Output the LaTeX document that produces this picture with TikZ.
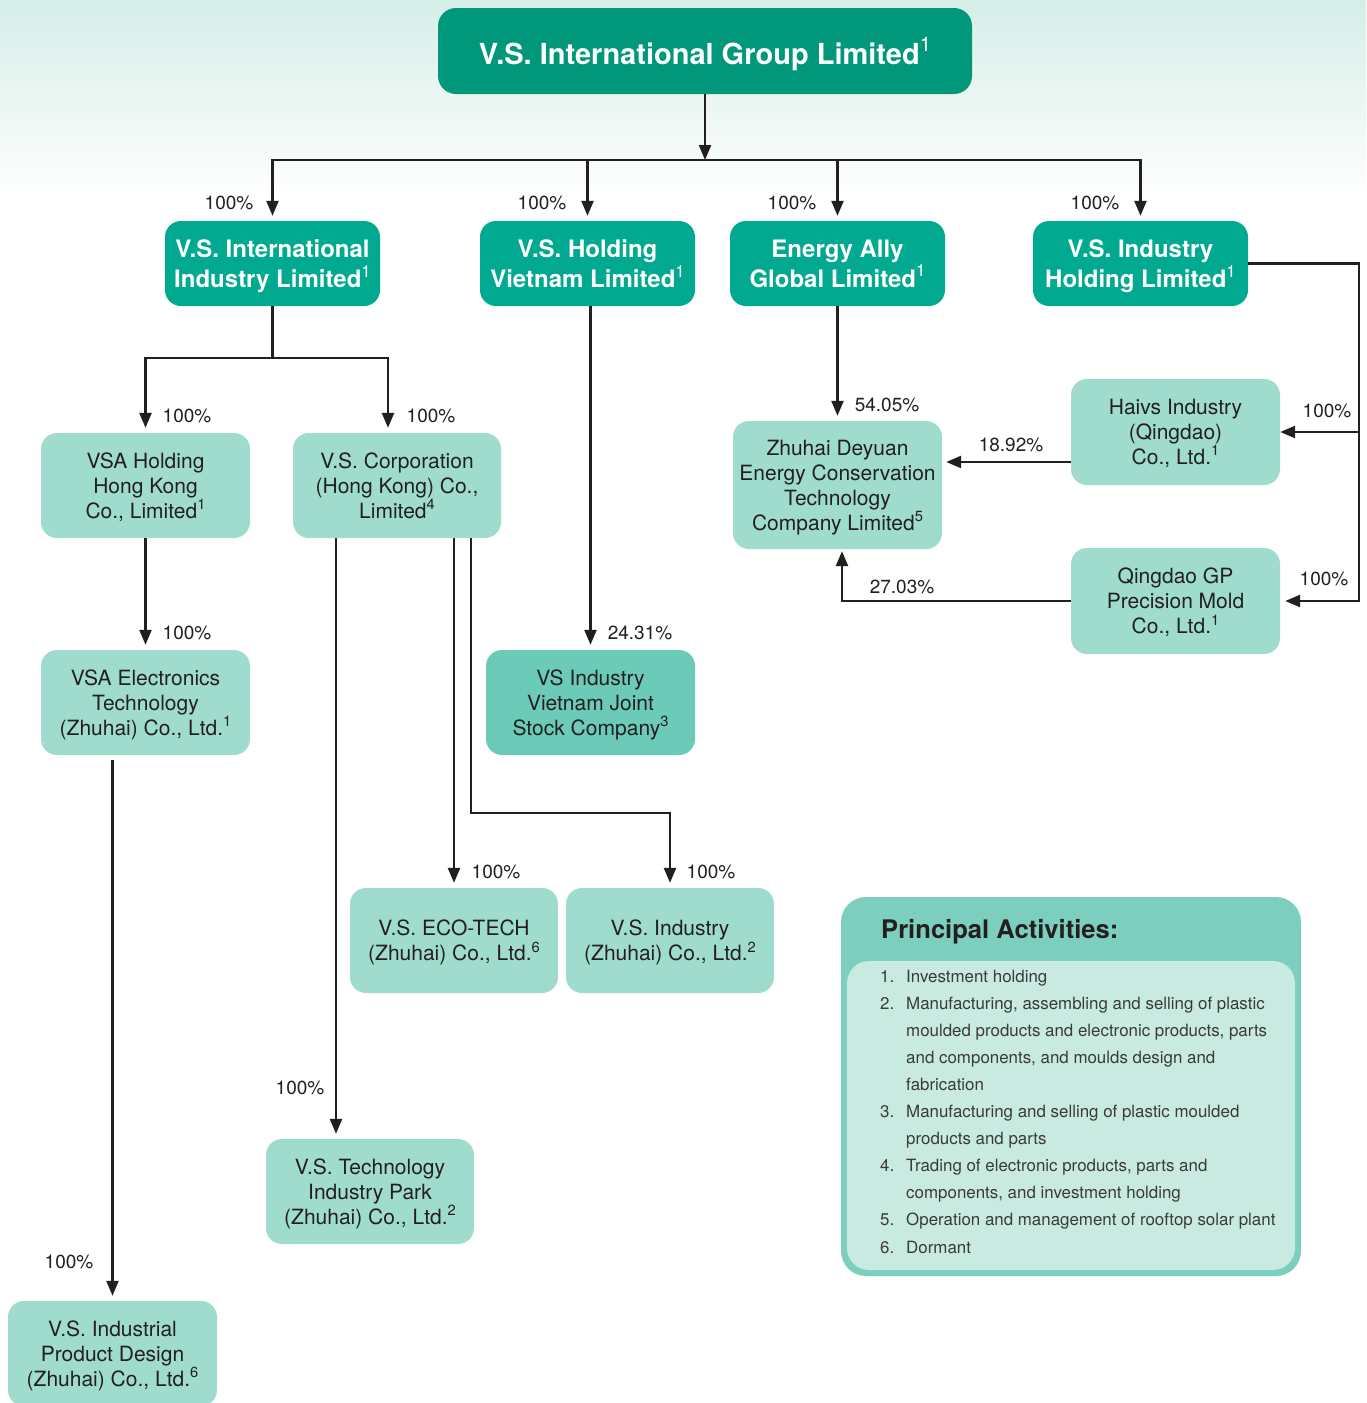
\documentclass[tikz,border=0pt]{standalone}
\usepackage{fontspec}
\setmainfont{TeX Gyre Heros}
\usetikzlibrary{arrows.meta,calc}
\definecolor{topc}{HTML}{00977A}
\definecolor{lonec}{HTML}{00A98F}
\definecolor{lightc}{HTML}{9FDCCE}
\definecolor{vnc}{HTML}{6BCBB8}
\definecolor{paout}{HTML}{7CCFBF}
\definecolor{pain}{HTML}{C8EAE1}
\definecolor{ink}{HTML}{231F20}
\definecolor{listink}{HTML}{3A3A3A}
\definecolor{bgmint}{HTML}{D6EEE8}
\newcommand\supn[1]{\raisebox{0.8ex}{\mdseries\scalebox{0.7}{#1}}}
\tikzset{
  strutted/.style={execute at begin node={\vrule height 0.72em depth 0pt width 0pt}, text depth=0pt},
  topbox/.style={strutted, rounded corners=18pt, fill=topc, text=white, inner sep=0pt, align=center,
    minimum width=534pt, minimum height=86pt, font=\fontsize{29}{34}\selectfont\bfseries},
  lonebox/.style={strutted, rounded corners=16pt, fill=lonec, text=white, inner sep=0pt, align=center,
    minimum width=215pt, minimum height=85pt, font=\fontsize{24}{30}\selectfont\bfseries},
  lbox/.style={strutted, rounded corners=16pt, fill=lightc, text=ink, inner sep=0pt, align=center,
    minimum width=209pt, minimum height=105pt, font=\fontsize{21}{25}\selectfont},
  pct/.style={text=ink, inner sep=0pt, font=\fontsize{19}{22}\selectfont},
  conn/.style={draw=ink, line width=2.4pt},
  arr/.style={conn, -{Triangle[length=15pt,width=12pt]}, shorten >=5pt},
  listtxt/.style={text=listink, inner sep=0pt, anchor=base west, font=\fontsize{16.9}{20}\selectfont},
}
\begin{document}
\begin{tikzpicture}[x=1pt,y=-1pt]
\useasboundingbox (0,0) rectangle (1366,1403);
\fill[white] (0,0) rectangle (1366,1403);
\fill[top color=bgmint, bottom color=white] (0,0) rectangle (1366,200);

% top
\node[topbox] (top) at (705,51) {V.S. International Group Limited\supn{1}};

% level 1
\node[lonebox] (vsiil) at (272.5,263.5) {V.S. International\\Industry Limited\supn{1}};
\node[lonebox] (vshvl) at (587.5,263.5) {V.S. Holding\\Vietnam Limited\supn{1}};
\node[lonebox] (eagl) at (837.5,263.5) {Energy Ally\\Global Limited\supn{1}};
\node[lonebox] (vsihl) at (1140.5,263.5) {V.S. Industry\\Holding Limited\supn{1}};

% lower boxes
\node[lbox] (vsahk) at (145.5,485.5) {VSA Holding\\Hong Kong\\Co., Limited\supn{1}};
\node[lbox, minimum width=208pt] (vscorp) at (397,485.5) {V.S. Corporation\\(Hong Kong) Co.,\\Limited\supn{4}};
\node[lbox] (vsae) at (145.5,702.5) {VSA Electronics\\Technology\\(Zhuhai) Co., Ltd.\supn{1}};
\node[lbox] (ipd) at (112.5,1353.5) {V.S. Industrial\\Product Design\\(Zhuhai) Co., Ltd.\supn{6}};
\node[lbox, minimum width=208pt] (tpark) at (370,1191.5) {V.S. Technology\\Industry Park\\(Zhuhai) Co., Ltd.\supn{2}};
\node[lbox, minimum width=208pt] (eco) at (454,940.5) {V.S. ECO-TECH\\(Zhuhai) Co., Ltd.\supn{6}};
\node[lbox, minimum width=208pt] (vsiz) at (670,940.5) {V.S. Industry\\(Zhuhai) Co., Ltd.\supn{2}};
\node[lbox, fill=vnc] (vsjsc) at (590.5,702.5) {VS Industry\\Vietnam Joint\\Stock Company\supn{3}};
\node[lbox, minimum height=128pt] (zd) at (837.5,485) {Zhuhai Deyuan\\Energy Conservation\\Technology\\Company Limited\supn{5}};
\node[lbox, minimum height=106pt] (haivs) at (1175.5,432) {Haivs Industry\\(Qingdao)\\Co., Ltd.\supn{1}};
\node[lbox, minimum height=106pt] (qgp) at (1175.5,601) {Qingdao GP\\Precision Mold\\Co., Ltd.\supn{1}};

% connectors
\coordinate (bus) at (705,160);
\draw[arr, shorten >=0pt] (top.south) -- (bus);
\foreach \n in {vsiil,vshvl,eagl,vsihl} \draw[arr] (bus) -| (\n.north);

\coordinate (b2) at (272.5,358);
\draw[arr] (vsiil.south) -- (b2) -| (vsahk.north);
\draw[arr] (b2) -| ([xshift=-9pt]vscorp.north);

\draw[arr] (vsahk.south) -- (vsae.north);
\draw[arr] ([yshift=-5pt]vsae.south -| ipd.north) -- (ipd.north);

\draw[arr] ([xshift=-61pt]vscorp.south) -- ([xshift=-61pt]vscorp.south |- tpark.north);
\draw[arr] (vscorp.south -| eco.north) -- (eco.north);
\coordinate (k1) at (471,813);
\draw[arr] ([xshift=74pt]vscorp.south) -- (k1) -| (vsiz.north);

\draw[arr] (vshvl.south -| vsjsc.north) -- (vsjsc.north);
\draw[arr] (eagl.south) -- (zd.north);

\coordinate (rb) at (1359,263.5);
\draw[arr] (vsihl.east) -- (rb) |- (qgp.east);
\draw[arr, shorten >=0pt] (rb |- haivs.east) -- (haivs.east);
\draw[arr, shorten >=4pt] ([yshift=-30pt]haivs.west) -- ([yshift=-30pt]haivs.west -| zd.east);
\draw[arr, shorten >=2pt] (qgp.west) -| ([xshift=4.5pt]zd.south);

% percentage labels
\node[pct] (p1) at (229,203) {100\%};
\node[pct] (p2) at (542,203) {100\%};
\node[pct] (p3) at (792,203) {100\%};
\node[pct] (p4) at (1095,203) {100\%};
\node[pct] (p5) at (187,416) {100\%};
\node[pct] (p6) at (431,416) {100\%};
\node[pct] (p7) at (187,633) {100\%};
\node[pct] (p8) at (69,1262) {100\%};
\node[pct] (p9) at (300,1088) {100\%};
\node[pct] (p10) at (496,872) {100\%};
\node[pct] (p11) at (711,872) {100\%};
\node[pct] (p12) at (640,633) {24.31\%};
\node[pct] (p13) at (887,405) {54.05\%};
\node[pct] (p14) at (1011,445) {18.92\%};
\node[pct] (p15) at (902,587) {27.03\%};
\node[pct] (p16) at (1327,411) {100\%};
\node[pct] (p17) at (1324,579) {100\%};

% principal activities panel
\node[rounded corners=25pt, fill=paout, minimum width=460pt, minimum height=379pt, inner sep=0pt] (pa) at (1071,1086.5) {};
\node[rounded corners=22pt, fill=pain, minimum width=448pt, minimum height=309pt, inner sep=0pt] (pin) at (1071,1115.5) {};
\node[text=ink, inner sep=0pt, anchor=base west, font=\fontsize{25.6}{30}\selectfont\bfseries] (patitle) at (881,938) {Principal Activities:};
\foreach \i/\num/\txt in {
  1/1./{Investment holding},
  2/2./{Manufacturing, assembling and selling of plastic},
  3//{moulded products and electronic products, parts},
  4//{and components, and moulds design and},
  5//{fabrication},
  6/3./{Manufacturing and selling of plastic moulded},
  7//{products and parts},
  8/4./{Trading of electronic products, parts and},
  9//{components, and investment holding},
  10/5./{Operation and management of rooftop solar plant},
  11/6./{Dormant}} {
  \node[listtxt] (pn\i) at (880,{982+(\i-1)*27.1}) {\num};
  \node[listtxt] (pt\i) at (906,{982+(\i-1)*27.1}) {\txt};
}
\end{tikzpicture}
\end{document}
